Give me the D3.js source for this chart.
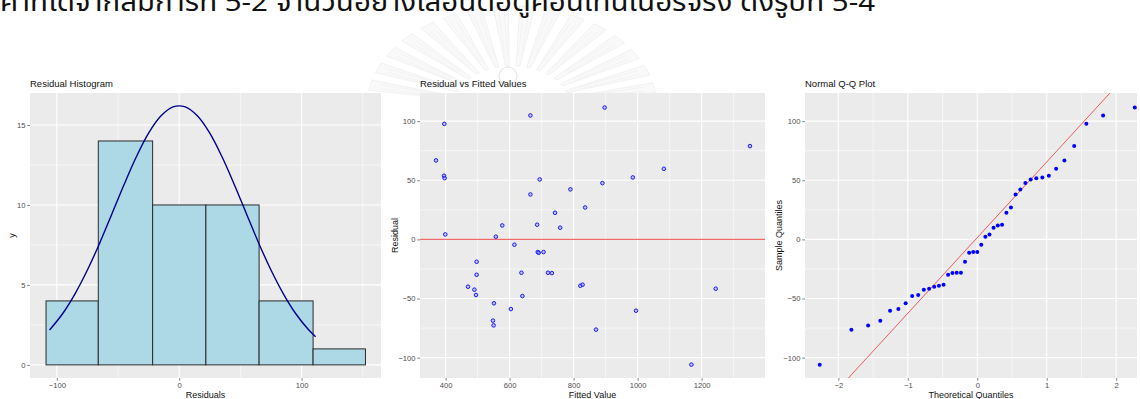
<!DOCTYPE html>
<html>
<head>
<meta charset="utf-8">
<script src="https://cdn.jsdelivr.net/npm/d3@7/dist/d3.min.js"></script>
<style>
  html, body { margin: 0; padding: 0; background: #fff; }
  svg { display: block; }
  text { font-family: "Liberation Sans", Arial, sans-serif; }
</style>
</head>
<body>
<svg id="chart" width="1140" height="399"></svg>
<script>
// ---------------- DATA ----------------
const headerText = "ค่าที่ได้จากสมการที่ 5-2 จำนวนอย่างเลื่อนต่อตู้คอนเทนเนอร์จริง ดังรูปที่ 5-4";

// Histogram
const histBinEdges = [-108.8, -66.1, -21.7, 21.8, 65.3, 109.4, 152.2];
const histCounts = [4, 14, 10, 10, 4, 1];
const curveX = [-105.9, -95, -85, -75, -65, -55, -45, -35, -25, -15, -5, 5, 15, 25, 35, 45, 55, 65, 75, 85, 95, 105, 111.5];
const curveY = [2.18, 3.23, 4.46, 5.93, 7.61, 9.44, 11.28, 13.01, 14.49, 15.56, 16.13, 16.13, 15.56, 14.49, 13.01, 11.28, 9.44, 7.61, 5.93, 4.46, 3.23, 2.26, 1.76];
const histXTicks = [-100, 0, 100];
const histXMinor = [-50, 50, 150];
const histYTicks = [0, 5, 10, 15];
const histYMinor = [2.5, 7.5, 12.5];

// Residual vs fitted
const fitted = [370, 396, 395, 397, 399, 470, 490, 497, 497, 495, 551, 548, 550, 557, 577, 604, 615, 637, 640, 665, 665, 694, 686, 688, 691, 706, 720, 732, 742, 758, 790, 821, 828, 836, 870, 890, 897, 985, 995, 1082, 1168, 1244, 1351];
const residuals = [66.8, 97.7, 53.8, 51.8, 4.2, -40, -42.5, -18.9, -29.9, -47, -54, -68.7, -72.7, 2.3, 11.8, -58.9, -4.5, -28.2, -47.9, 104.8, 38, 50.7, 12.4, -10.7, -11.3, -10.7, -28.2, -28.5, 22.5, 9.9, 42.3, -39.2, -38.3, 27, -76.3, 47.6, 111.5, 52.4, -60.3, 59.7, -105.9, -41.7, 78.9];
const fitXTicks = [400, 600, 800, 1000, 1200];
const fitXMinor = [500, 700, 900, 1100, 1300];
const resYTicks = [-100, -50, 0, 50, 100];
const resYMinor = [-75, -25, 25, 75];

// Normal Q-Q
const qqTheoretical = [-2.268, -1.812, -1.571, -1.396, -1.255, -1.136, -1.031, -0.937, -0.850, -0.769, -0.693, -0.620, -0.552, -0.485, -0.420, -0.357, -0.296, -0.235, -0.176, -0.117, -0.058, 0,
  0.058, 0.117, 0.176, 0.235, 0.296, 0.357, 0.420, 0.485, 0.552, 0.620, 0.693, 0.769, 0.850, 0.937, 1.031, 1.136, 1.255, 1.396, 1.571, 1.812, 2.268];
const qqLineIntercept = 1.5;
const qqLineSlope = 64;
const qqXTicks = [-2, -1, 0, 1, 2];
const qqXMinor = [-1.5, -0.5, 0.5, 1.5];

// ---------------- DRAW ----------------
const svg = d3.select("#chart");
const PANEL_BG = "#EBEBEB";

// faint watermark emblem (behind everything)
(function watermark() {
  const g = svg.append("g");
  const cx = 512, cy = 106, rx = 145, ry = 100;
  const angles = d3.range(168, 10, -10.5);
  angles.forEach(a => {
    const pts = [];
    const half = 3.0;
    [[a - half * 0.6, 0.4], [a - half, 1.0], [a + half, 1.0], [a + half * 0.6, 0.4]].forEach(([ang, r]) => {
      const t = ang * Math.PI / 180;
      pts.push([cx + Math.cos(t) * rx * r, cy - Math.sin(t) * ry * r]);
    });
    g.append("path").attr("d", d3.line()(pts) + "Z")
      .attr("fill", "#f9f9f9").attr("stroke", "#ececec").attr("stroke-width", 0.7);
    for (let k = -1; k <= 1; k += 2) {
      const t = (a + k * 1.2) * Math.PI / 180;
      g.append("line")
        .attr("x1", cx + Math.cos(t) * rx * 0.5).attr("y1", cy - Math.sin(t) * ry * 0.5)
        .attr("x2", cx + Math.cos(t) * rx * 0.93).attr("y2", cy - Math.sin(t) * ry * 0.93)
        .attr("stroke", "#eeeeee").attr("stroke-width", 0.6);
    }
  });
  g.append("circle").attr("cx", cx - 4).attr("cy", cy - 30).attr("r", 9)
    .attr("fill", "none").attr("stroke", "#e8e8e8").attr("stroke-width", 1.2);
})();

// header Thai line (clipped at top like the source)
svg.append("text")
  .attr("x", 0).attr("y", 11)
  .attr("textLength", 875).attr("lengthAdjust", "spacingAndGlyphs")
  .style("font-family", "'Noto Sans Thai', 'Noto Sans', 'DejaVu Sans', sans-serif")
  .style("font-size", "26px").attr("fill", "#111")
  .text(headerText);

function panel(opts) {
  const { x0, x1, y0, y1, xDomain, yDomain, xTicks, xMinor, yTicks, yMinor, title, xTitle, yTitle, yTitleX, id } = opts;
  const x = d3.scaleLinear().domain(xDomain).range([x0, x1]);
  const y = d3.scaleLinear().domain(yDomain).range([y1, y0]);
  const g = svg.append("g");
  g.append("rect").attr("x", x0).attr("y", y0).attr("width", x1 - x0).attr("height", y1 - y0).attr("fill", PANEL_BG);
  // minor grid
  g.selectAll(null).data(xMinor).enter().append("line")
    .attr("x1", d => x(d)).attr("x2", d => x(d)).attr("y1", y0).attr("y2", y1)
    .attr("stroke", "#fff").attr("stroke-width", 0.55);
  g.selectAll(null).data(yMinor).enter().append("line")
    .attr("y1", d => y(d)).attr("y2", d => y(d)).attr("x1", x0).attr("x2", x1)
    .attr("stroke", "#fff").attr("stroke-width", 0.55);
  // major grid
  g.selectAll(null).data(xTicks).enter().append("line")
    .attr("x1", d => x(d)).attr("x2", d => x(d)).attr("y1", y0).attr("y2", y1)
    .attr("stroke", "#fff").attr("stroke-width", 1.1);
  g.selectAll(null).data(yTicks).enter().append("line")
    .attr("y1", d => y(d)).attr("y2", d => y(d)).attr("x1", x0).attr("x2", x1)
    .attr("stroke", "#fff").attr("stroke-width", 1.1);
  // axes
  const ax = g.append("g").attr("transform", `translate(0,${y1})`)
    .call(d3.axisBottom(x).tickValues(xTicks).tickSize(2.75).tickPadding(2.2).tickFormat(d3.format("")));
  const ay = g.append("g").attr("transform", `translate(${x0},0)`)
    .call(d3.axisLeft(y).tickValues(yTicks).tickSize(2.75).tickPadding(1.8).tickFormat(d3.format("")));
  [ax, ay].forEach(a => {
    a.select(".domain").remove();
    a.selectAll(".tick line").attr("stroke", "#333").attr("stroke-width", 0.6);
    a.selectAll(".tick text").attr("fill", "#4D4D4D").style("font-size", "7.6px")
      .style("font-family", "'Liberation Sans', Arial, sans-serif");
  });
  // titles
  g.append("text").attr("x", x0).attr("y", 87).text(title)
    .style("font-size", "9.5px").attr("fill", "#111");
  g.append("text").attr("x", (x0 + x1) / 2).attr("y", 397.5).attr("text-anchor", "middle").text(xTitle)
    .style("font-size", "9px").attr("fill", "#111");
  g.append("text").attr("transform", `translate(${yTitleX},${(y0 + y1) / 2}) rotate(-90)`)
    .attr("text-anchor", "middle").text(yTitle)
    .style("font-size", "9px").attr("fill", "#111");
  // clip
  svg.append("clipPath").attr("id", id).append("rect")
    .attr("x", x0).attr("y", y0).attr("width", x1 - x0).attr("height", y1 - y0);
  const plot = svg.append("g").attr("clip-path", `url(#${id})`);
  return { x, y, plot };
}

// Panel 1: histogram
{
  const p = panel({
    id: "c1", x0: 30, x1: 381, y0: 93, y1: 378,
    xDomain: [-121.9, 164.9], yDomain: [-0.82, 17.0],
    xTicks: histXTicks, xMinor: histXMinor, yTicks: histYTicks, yMinor: histYMinor,
    title: "Residual Histogram", xTitle: "Residuals", yTitle: "y", yTitleX: 14.5
  });
  const bins = histCounts.map((c, i) => ({ lo: histBinEdges[i], hi: histBinEdges[i + 1], c }));
  p.plot.selectAll(null).data(bins).enter().append("rect")
    .attr("x", d => p.x(d.lo)).attr("width", d => p.x(d.hi) - p.x(d.lo))
    .attr("y", d => p.y(d.c)).attr("height", d => p.y(0) - p.y(d.c))
    .attr("fill", "#ADD8E6").attr("stroke", "#2b2b2b").attr("stroke-width", 1);
  const pts = curveX.map((v, i) => [v, curveY[i]]);
  p.plot.append("path")
    .attr("d", d3.line().x(d => p.x(d[0])).y(d => p.y(d[1])).curve(d3.curveCatmullRom)(pts))
    .attr("fill", "none").attr("stroke", "#00008B").attr("stroke-width", 1.4);
}

// Panel 2: residual vs fitted
{
  const p = panel({
    id: "c2", x0: 420, x1: 765, y0: 93, y1: 378,
    xDomain: [320, 1398], yDomain: [-117.2, 123.8],
    xTicks: fitXTicks, xMinor: fitXMinor, yTicks: resYTicks, yMinor: resYMinor,
    title: "Residual vs Fitted Values", xTitle: "Fitted Value", yTitle: "Residual", yTitleX: 398
  });
  p.plot.append("line").attr("x1", 420).attr("x2", 765).attr("y1", p.y(0)).attr("y2", p.y(0))
    .attr("stroke", "#EE6B6B").attr("stroke-width", 1.3);
  p.plot.selectAll(null).data(fitted.map((f, i) => [f, residuals[i]])).enter().append("circle")
    .attr("cx", d => p.x(d[0])).attr("cy", d => p.y(d[1])).attr("r", 1.8)
    .attr("fill", "rgba(150,150,255,0.5)").attr("stroke", "#1a1aff").attr("stroke-width", 1);
}

// Panel 3: Normal Q-Q
{
  const p = panel({
    id: "c3", x0: 805, x1: 1137, y0: 93, y1: 378,
    xDomain: [-2.48, 2.30], yDomain: [-117.2, 123.8],
    xTicks: qqXTicks, xMinor: qqXMinor, yTicks: resYTicks, yMinor: resYMinor,
    title: "Normal Q-Q Plot", xTitle: "Theoretical Quantiles", yTitle: "Sample Quantiles", yTitleX: 782
  });
  const sample = d3.sort(residuals);
  const xd = p.x.domain();
  p.plot.append("line")
    .attr("x1", p.x(xd[0])).attr("y1", p.y(qqLineIntercept + qqLineSlope * xd[0]))
    .attr("x2", p.x(xd[1])).attr("y2", p.y(qqLineIntercept + qqLineSlope * xd[1]))
    .attr("stroke", "#F04848").attr("stroke-width", 0.9);
  p.plot.selectAll(null).data(qqTheoretical.map((t, i) => [t, sample[i]])).enter().append("circle")
    .attr("cx", d => p.x(d[0])).attr("cy", d => p.y(d[1])).attr("r", 2)
    .attr("fill", "#0000FF");
}
</script>
</body>
</html>
